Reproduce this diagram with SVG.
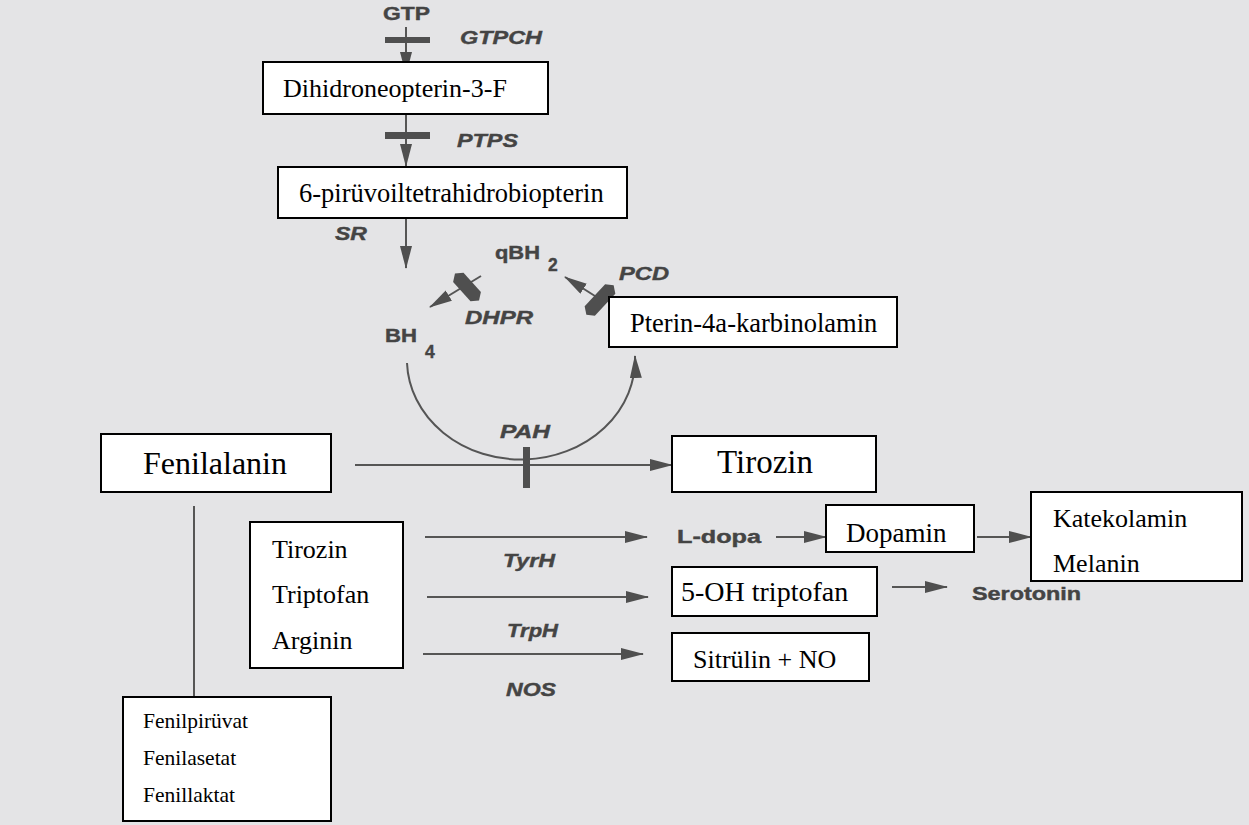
<svg xmlns="http://www.w3.org/2000/svg" width="1249" height="825" viewBox="0 0 1249 825">
<defs>
<marker id="arr" markerUnits="userSpaceOnUse" markerWidth="24" markerHeight="14" refX="22" refY="6" orient="auto">
<path d="M0,0 L23,6 L0,12 z" fill="#4f4f4f"/>
</marker>
<clipPath id="cDop"><rect x="826" y="505" width="148" height="47"/></clipPath>
<clipPath id="c5oh"><rect x="672" y="567" width="205" height="49"/></clipPath>
<clipPath id="cKat"><rect x="1031" y="492" width="211" height="89"/></clipPath>
</defs>
<style>
.box{fill:#fff;stroke:#000;stroke-width:2}
.t{font-family:"Liberation Serif","Times New Roman",serif;fill:#000}
.s{font-family:"Liberation Sans",Arial,sans-serif;font-weight:bold;fill:#444;stroke:#444;stroke-width:0.4;font-size:17.5px}
.i{font-style:italic}
.ln{stroke:#555;stroke-width:2;fill:none}
.bar{fill:#4f4f4f}
</style>
<rect x="0" y="0" width="1249" height="825" fill="#e4e4e6"/>

<g id="connectors">
<line class="ln" x1="406" y1="27" x2="406" y2="74" marker-end="url(#arr)"/>
<rect class="bar" x="385" y="37" width="45" height="6"/>
<line class="ln" x1="406" y1="114" x2="406" y2="166" marker-end="url(#arr)"/>
<rect class="bar" x="385" y="132" width="45" height="7"/>
<line class="ln" x1="406" y1="218" x2="406" y2="268" marker-end="url(#arr)"/>
<line class="ln" x1="481" y1="276" x2="430" y2="307" marker-end="url(#arr)"/>
<path class="bar" d="M-18,0 L-13,-7 L13,-7 L18,0 L13,7 L-13,7 z" transform="translate(467 287) rotate(48)"/>
<line class="ln" x1="606" y1="303" x2="565" y2="277" marker-end="url(#arr)"/>
<path class="bar" d="M-20,0 L-15,-7 L15,-7 L20,0 L15,7 L-15,7 z" transform="translate(600 300) rotate(-47)"/>
<path class="ln" d="M407,363 A114,100 0 0 0 635,356" marker-end="url(#arr)"/>
<line class="ln" x1="355" y1="465" x2="672" y2="465" marker-end="url(#arr)"/>
<rect class="bar" x="523" y="447" width="7" height="41"/>
<line class="ln" x1="194" y1="506" x2="194" y2="697"/>
<line class="ln" x1="425" y1="537" x2="647" y2="537" marker-end="url(#arr)"/>
<line class="ln" x1="427" y1="597" x2="648" y2="597" marker-end="url(#arr)"/>
<line class="ln" x1="423" y1="654" x2="643" y2="654" marker-end="url(#arr)"/>
<line class="ln" x1="776" y1="537" x2="826" y2="537" marker-end="url(#arr)"/>
<line class="ln" x1="977" y1="537" x2="1031" y2="537" marker-end="url(#arr)"/>
<line class="ln" x1="892" y1="587" x2="947" y2="587" marker-end="url(#arr)"/>
</g>

<g id="labels">
<text class="s" x="383" y="20" textLength="47" lengthAdjust="spacingAndGlyphs">GTP</text>
<text class="s i" x="460" y="44" textLength="82" lengthAdjust="spacingAndGlyphs">GTPCH</text>
<text class="s i" x="457" y="147" textLength="61" lengthAdjust="spacingAndGlyphs">PTPS</text>
<text class="s i" x="335" y="240" textLength="32" lengthAdjust="spacingAndGlyphs">SR</text>
<text class="s" x="495" y="259" textLength="45" lengthAdjust="spacingAndGlyphs">qBH</text>
<text class="s" x="548" y="271" font-size="16">2</text>
<text class="s i" x="619" y="280" textLength="50" lengthAdjust="spacingAndGlyphs">PCD</text>
<text class="s i" x="465" y="324" textLength="68" lengthAdjust="spacingAndGlyphs">DHPR</text>
<text class="s" x="385" y="342" textLength="32" lengthAdjust="spacingAndGlyphs">BH</text>
<text class="s" x="425" y="358" font-size="16">4</text>
<text class="s i" x="500" y="438" textLength="50" lengthAdjust="spacingAndGlyphs">PAH</text>
<text class="s i" x="503" y="567" textLength="52" lengthAdjust="spacingAndGlyphs">TyrH</text>
<text class="s i" x="507" y="637" textLength="51" lengthAdjust="spacingAndGlyphs">TrpH</text>
<text class="s i" x="506" y="696" textLength="50" lengthAdjust="spacingAndGlyphs">NOS</text>
<text class="s" x="677" y="543" textLength="84" lengthAdjust="spacingAndGlyphs">L-dopa</text>
<text class="s" x="972" y="600" textLength="109" lengthAdjust="spacingAndGlyphs">Serotonin</text>
</g>

<g id="dihidroneopterin">
<rect class="box" x="263" y="62" width="285" height="52"/>
<text class="t" x="283" y="97" font-size="26">Dihidroneopterin-3-F</text>
</g>
<g id="piruvoil">
<rect class="box" x="278" y="167" width="349" height="51"/>
<text class="t" x="299" y="202" font-size="26.5">6-pirüvoiltetrahidrobiopterin</text>
</g>
<g id="pterin">
<rect class="box" x="609" y="297" width="288" height="50"/>
<text class="t" x="630" y="332" font-size="26.5">Pterin-4a-karbinolamin</text>
</g>
<g id="fenilalanin">
<rect class="box" x="101" y="434" width="230" height="58"/>
<text class="t" x="143" y="474" font-size="32">Fenilalanin</text>
</g>
<g id="tirozin">
<rect class="box" x="672" y="436" width="204" height="56"/>
<text class="t" x="717" y="473" font-size="33">Tirozin</text>
</g>
<g id="aminoacids">
<rect class="box" x="250" y="522" width="153" height="146"/>
<text class="t" x="272" y="558" font-size="26">Tirozin</text>
<text class="t" x="272" y="603" font-size="26">Triptofan</text>
<text class="t" x="272" y="649" font-size="26">Arginin</text>
</g>
<g id="dopamin">
<rect class="box" x="826" y="505" width="148" height="47"/>
<text class="t" x="846" y="542" font-size="27" clip-path="url(#cDop)">Dopamin</text>
</g>
<g id="katekolamin">
<rect class="box" x="1031" y="492" width="211" height="89"/>
<text class="t" x="1053" y="527" font-size="26" clip-path="url(#cKat)">Katekolamin</text>
<text class="t" x="1053" y="572" font-size="26" clip-path="url(#cKat)">Melanin</text>
</g>
<g id="ohtriptofan">
<rect class="box" x="672" y="567" width="205" height="49"/>
<text class="t" x="681" y="601" font-size="28" clip-path="url(#c5oh)">5-OH triptofan</text>
</g>
<g id="sitrulin">
<rect class="box" x="672" y="633" width="197" height="48"/>
<text class="t" x="693" y="668" font-size="26">Sitrülin + NO</text>
</g>
<g id="fenilpiruvat">
<rect class="box" x="123" y="697" width="208" height="124"/>
<text class="t" x="143" y="728" font-size="21.5">Fenilpirüvat</text>
<text class="t" x="143" y="765" font-size="21.5">Fenilasetat</text>
<text class="t" x="143" y="802" font-size="21.5">Fenillaktat</text>
</g>
</svg>
